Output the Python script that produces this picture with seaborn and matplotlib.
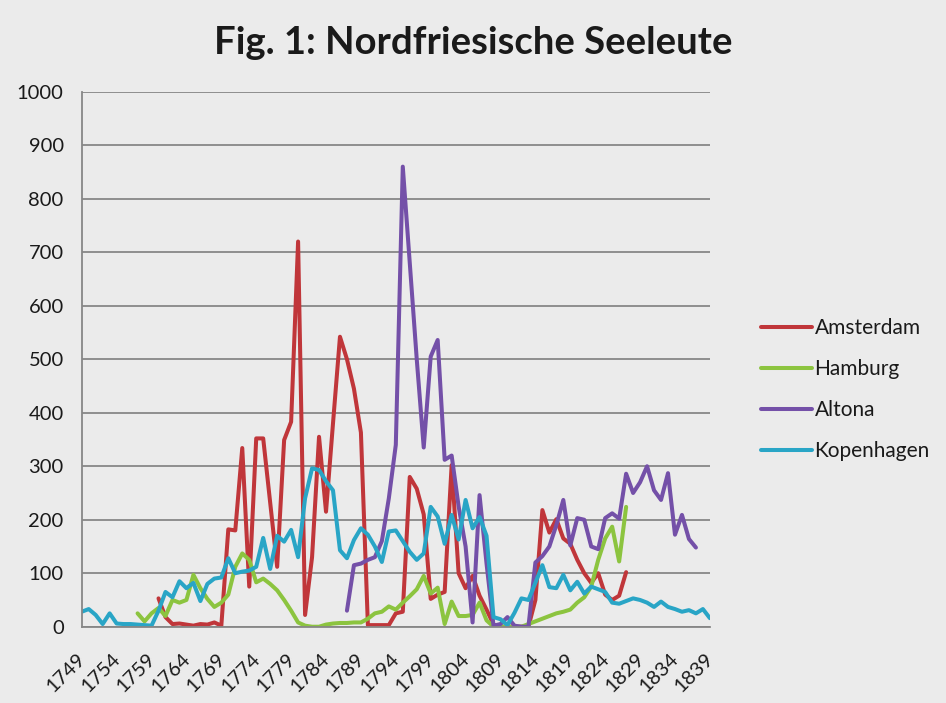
import numpy as np
import pandas as pd
import matplotlib.pyplot as plt
import matplotlib.transforms as mtransforms
import seaborn as sns

years = list(range(1749, 1840))

# Seeleute je Jahr
amsterdam_from = 1760
amsterdam = [53, 18, 5, 6, 4, 2, 5, 4, 8, 2,
             182, 180, 334, 75, 352, 352, 232, 112, 349, 383,
             720, 22, 130, 355, 215, 380, 542, 500, 445, 363,
             3, 3, 3, 3, 25, 28, 280, 258, 210, 52,
             60, 65, 302, 100, 72, 95, 58, 32, 4, 0,
             0, 0, 0, 0, 50, 218, 176, 201, 165, 155,
             125, 100, 82, 100, 60, 50, 58, 102]

hamburg_from = 1757
hamburg = [25, 10, 25,
           35, 20, 50, 45, 50, 97, 72, 52, 37, 45,
           60, 112, 137, 125, 83, 90, 80, 68, 50, 30,
           8, 2, 0, 0, 4, 6, 7, 7, 8, 8,
           15, 25, 28, 38, 32, 45, 57, 70, 95, 62,
           73, 5, 47, 20, 20, 22, 45, 12, 0, 0,
           0, 0, 0, 5, 10, 15, 20, 25, 28, 32,
           45, 55, 75, 125, 165, 187, 122, 224]

altona_from = 1787
altona = [30, 115, 118,
          125, 130, 160, 240, 340, 860, 680, 500, 335, 505,
          536, 312, 320, 225, 150, 8, 246, 118, 2, 5,
          18, 2, 0, 0, 120, 132, 150, 190, 237, 152,
          203, 200, 150, 145, 203, 212, 202, 286, 250, 270,
          300, 255, 237, 287, 172, 209, 164, 148]

kopenhagen_from = 1749
kopenhagen = [28, 33, 22, 5, 25, 6, 5, 5, 4, 3, 2,
              30, 65, 55, 85, 72, 82, 48, 80, 90, 92,
              128, 100, 103, 105, 112, 166, 108, 170, 159, 181,
              130, 240, 296, 293, 272, 255, 143, 128, 162, 184,
              172, 150, 121, 178, 180, 160, 140, 125, 137, 224,
              206, 155, 209, 163, 237, 184, 205, 170, 18, 14,
              3, 26, 53, 50, 82, 115, 74, 72, 97, 68,
              84, 62, 75, 70, 65, 45, 43, 48, 53, 50,
              45, 37, 47, 37, 33, 28, 31, 25, 33, 16]

series = [("Amsterdam", amsterdam_from, amsterdam),
          ("Hamburg", hamburg_from, hamburg),
          ("Altona", altona_from, altona),
          ("Kopenhagen", kopenhagen_from, kopenhagen)]

colors = {"Amsterdam": "#c0363a", "Hamburg": "#8cc43f",
          "Altona": "#7450a8", "Kopenhagen": "#29a5c6"}

frames = []
for name, start, values in series:
    i0 = years.index(start)
    frames.append(pd.DataFrame({"Jahr": years[i0:i0 + len(values)],
                                "Seeleute": values, "Hafen": name}))
df = pd.concat(frames, ignore_index=True)

bg = "#ebebeb"
grid_col = "#878787"
text_col = "#1a1a1a"

sns.set_style("white")
plt.rcParams["font.family"] = ["Lato", "DejaVu Sans"]

fig = plt.figure(figsize=(9.46, 7.03), dpi=100, facecolor=bg)
ax = fig.add_axes([0.0864, 0.1085, 0.664, 0.761])
ax.set_facecolor(bg)

sns.lineplot(data=df, x="Jahr", y="Seeleute", hue="Hafen", palette=colors,
             hue_order=list(colors), linewidth=2.9, estimator=None, sort=False,
             ax=ax)

ax.set_xlim(1749, 1839)
ax.set_ylim(0, 1000)
ax.set_yticks(range(0, 1001, 100))
ax.set_xticks(years[::5])
ax.set_xticks(years, minor=True)
ax.set_xlabel("")
ax.set_ylabel("")

ax.grid(axis="y", color=grid_col, linewidth=1.3)
ax.set_axisbelow(True)
for side in ["top", "right"]:
    ax.spines[side].set_visible(False)
for side in ["left", "bottom"]:
    ax.spines[side].set_color(grid_col)
    ax.spines[side].set_linewidth(1.3)

ax.tick_params(axis="y", direction="out", length=6, width=1.2, color=grid_col,
               labelsize=14.5, labelcolor=text_col, pad=7)
ax.tick_params(axis="x", which="both", direction="out", length=6, width=1.0,
               color=grid_col, labelsize=14.5, labelcolor=text_col, pad=11)
shift = mtransforms.ScaledTranslation(-5 / 100, 0, fig.dpi_scale_trans)
for lab in ax.get_xticklabels():
    lab.set_rotation(45)
    lab.set_ha("right")
    lab.set_va("top")
    lab.set_rotation_mode("anchor")
    lab.set_transform(lab.get_transform() + shift)

handles, labels = ax.get_legend_handles_labels()
ax.legend(handles, labels, loc="upper left", frameon=False,
          bbox_to_anchor=(751 / 946, 1 - 308 / 703),
          bbox_transform=fig.transFigure, borderpad=0,
          handlelength=2.45, handletextpad=0.1, labelspacing=1.0,
          fontsize=15, labelcolor=text_col)

fig.text(0.5, 1 - 43 / 703, "Fig. 1: Nordfriesische Seeleute", ha="center",
         va="center", fontsize=27.5, fontweight="bold", color=text_col)

fig.savefig("out.png", dpi=100, facecolor=bg)
